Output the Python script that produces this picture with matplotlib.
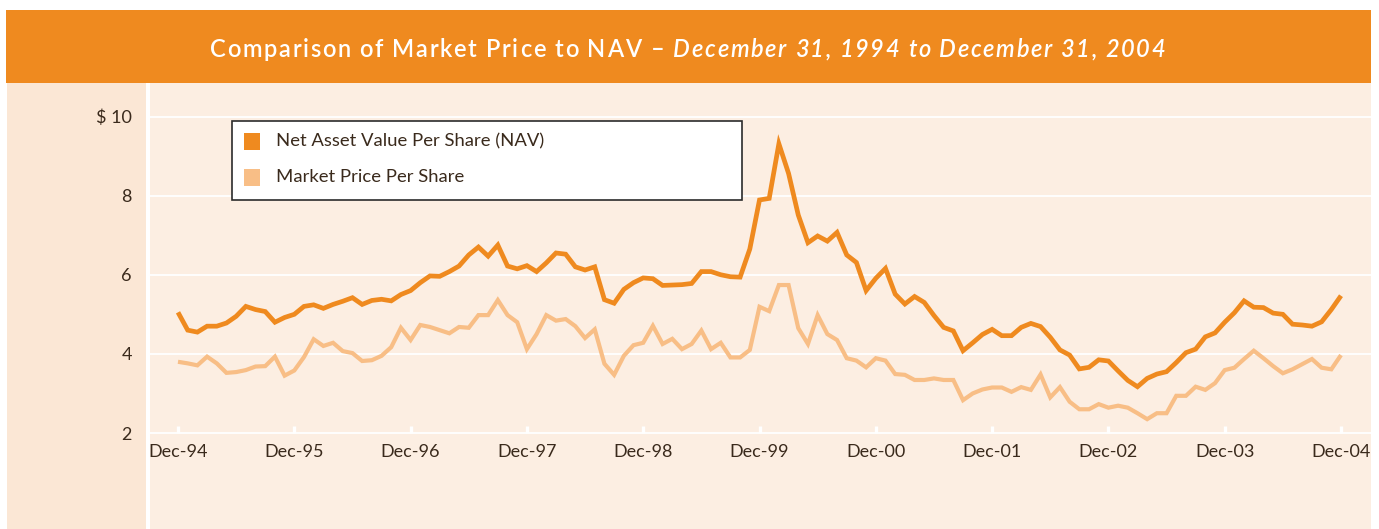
import matplotlib
matplotlib.use("Agg")
import matplotlib.pyplot as plt
from matplotlib.patches import Rectangle
from matplotlib.font_manager import FontProperties
import numpy as np

# ---------------- data ----------------
year_labels = ["Dec-94", "Dec-95", "Dec-96", "Dec-97", "Dec-98", "Dec-99",
               "Dec-00", "Dec-01", "Dec-02", "Dec-03", "Dec-04"]

nav = [5.05, 4.60, 4.55, 4.70, 4.70, 4.78, 4.95, 5.20, 5.12, 5.07, 4.80, 4.92,
       5.00, 5.20, 5.24, 5.15, 5.25, 5.33, 5.42, 5.25, 5.35, 5.38, 5.34, 5.50,
       5.60, 5.80, 5.97, 5.96, 6.08, 6.22, 6.50, 6.70, 6.47, 6.75, 6.22, 6.15,
       6.23, 6.08, 6.30, 6.55, 6.52, 6.20, 6.12, 6.20, 5.37, 5.28, 5.63, 5.80,
       5.92, 5.90, 5.73, 5.74, 5.75, 5.78, 6.08, 6.08, 6.00, 5.95, 5.94, 6.65,
       7.89, 7.93, 9.31, 8.56, 7.51, 6.81, 6.98, 6.85, 7.07, 6.50, 6.31, 5.60,
       5.91, 6.16, 5.51, 5.26, 5.45, 5.30, 4.97, 4.67, 4.58, 4.08, 4.28, 4.49,
       4.62, 4.46, 4.46, 4.67, 4.77, 4.69, 4.42, 4.10, 3.97, 3.62, 3.66, 3.85,
       3.82, 3.57, 3.33, 3.17, 3.38, 3.49, 3.55, 3.78, 4.03, 4.12, 4.43, 4.53,
       4.80, 5.04, 5.34, 5.18, 5.17, 5.03, 5.00, 4.75, 4.73, 4.70, 4.81, 5.12,
       5.47]

market = [3.80, 3.76, 3.71, 3.93, 3.76, 3.52, 3.54, 3.59, 3.68, 3.69, 3.93, 3.45,
          3.58, 3.92, 4.37, 4.20, 4.28, 4.07, 4.02, 3.82, 3.84, 3.95, 4.17, 4.66,
          4.35, 4.73, 4.68, 4.60, 4.52, 4.68, 4.66, 4.98, 4.98, 5.36, 4.98, 4.80,
          4.12, 4.50, 4.98, 4.84, 4.88, 4.70, 4.40, 4.62, 3.75, 3.47, 3.95, 4.22,
          4.28, 4.71, 4.25, 4.38, 4.12, 4.25, 4.59, 4.12, 4.28, 3.91, 3.91, 4.10,
          5.19, 5.08, 5.74, 5.74, 4.65, 4.25, 4.98, 4.50, 4.35, 3.89, 3.83, 3.66,
          3.89, 3.83, 3.49, 3.47, 3.34, 3.34, 3.38, 3.34, 3.34, 2.83, 3.00, 3.10,
          3.15, 3.15, 3.04, 3.16, 3.09, 3.48, 2.90, 3.16, 2.79, 2.60, 2.60, 2.73,
          2.64, 2.69, 2.64, 2.50, 2.35, 2.50, 2.50, 2.94, 2.94, 3.17, 3.09, 3.26,
          3.59, 3.65, 3.87, 4.08, 3.89, 3.69, 3.51, 3.61, 3.74, 3.87, 3.65, 3.61,
          3.97]

y_ticks = [2, 4, 6, 8, 10]
y_tick_labels = ["2", "4", "6", "8", "$ 10"]

series_labels = ["Net Asset Value Per Share (NAV)", "Market Price Per Share"]
title_main = "Comparison of Market Price to NAV \u2013 "
title_italic = "December 31, 1994 to December 31, 2004"

# ---------------- style ----------------
ORANGE = "#EF8A1F"
LIGHT = "#F8BE86"
PLOT_BG = "#FCEEE2"
PANEL_BG = "#FBE7D5"
TEXT = "#3A2A1C"
FAMILY = ['Lato', 'DejaVu Sans']

plt.rcParams['font.family'] = FAMILY

W, H, DPI = 1379, 529, 100
fig = plt.figure(figsize=(W / DPI, H / DPI), dpi=DPI)
fig.patch.set_facecolor("white")


def fx(x):
    return x / W


def fy(y):
    return 1 - y / H


def rect_px(x0, y0, x1, y1, **kw):
    r = Rectangle((fx(x0), fy(y1)), (x1 - x0) / W, (y1 - y0) / H,
                  transform=fig.transFigure, **kw)
    fig.add_artist(r)
    return r


# background panels
rect_px(6, 10, 1371, 83, facecolor=ORANGE, edgecolor="none", zorder=0)
rect_px(7, 83, 146, 529, facecolor=PANEL_BG, edgecolor="none", zorder=0)
rect_px(150, 83, 1371, 529, facecolor=PLOT_BG, edgecolor="none", zorder=0)

# axes: top at y=83 px, bottom at value 2 (y=433 px)
ax_l, ax_r, ax_t, ax_b = 150, 1371, 83, 433
ax = fig.add_axes([fx(ax_l), fy(ax_b), (ax_r - ax_l) / W, (ax_b - ax_t) / H])
ax.set_facecolor(PLOT_BG)
for s in ax.spines.values():
    s.set_visible(False)

px_per_unit = (433 - 116.5) / 8.0
ymax = 10 + (116.5 - 83) / px_per_unit
ax.set_ylim(2, ymax)

x0_px, month_px = 178.0, (1341.0 - 178.0) / 120.0
ax.set_xlim((ax_l - x0_px) / month_px, (ax_r - x0_px) / month_px)

months = np.arange(len(nav))
tick_months = np.arange(0, 12 * len(year_labels), 12)

# gridlines
for yv in y_ticks:
    ax.axhline(yv, color="white", lw=1.3, zorder=1, clip_on=False)

# white tick marks at year ends
ax.vlines(tick_months, 2, 2 + 7.5 / px_per_unit, colors="white", lw=2.4,
          zorder=1, clip_on=False)

ax.plot(months, market, color=LIGHT, lw=3.0, zorder=3,
        solid_joinstyle="miter", solid_capstyle="butt")
ax.plot(months, nav, color=ORANGE, lw=3.4, zorder=4,
        solid_joinstyle="miter", solid_capstyle="butt")

ax.set_yticks(y_ticks)
ax.set_yticklabels(y_tick_labels)
ax.set_xticks(tick_months)
ax.set_xticklabels(year_labels)
ax.tick_params(axis="y", length=0, pad=13, labelsize=13, labelcolor=TEXT)
ax.tick_params(axis="x", length=0, pad=8, labelsize=13, labelcolor=TEXT)

# legend (manual box)
rect_px(232, 121, 742, 200, facecolor="white", edgecolor="#2B2B2B",
        lw=1.2, zorder=5)
rect_px(244, 133, 260, 150, facecolor=ORANGE, edgecolor="none", zorder=6)
rect_px(244, 169, 260, 186, facecolor=LIGHT, edgecolor="none", zorder=6)
fig.text(fx(276), fy(141.5), series_labels[0], ha="left", va="center",
         fontsize=13.3, color=TEXT, zorder=7)
fig.text(fx(276), fy(177.5), series_labels[1], ha="left", va="center",
         fontsize=13.3, color=TEXT, zorder=7)

# title: lightly letter-spaced, upright part followed by italic part
renderer = fig.canvas.get_renderer()
TITLE_FS = 17
TITLE_LEFT, TITLE_RIGHT, TITLE_BASE = 210, 1165, 57
parts = [(title_main, "normal"), (title_italic, "italic")]


def prefix_widths(s, style):
    fp = FontProperties(family=FAMILY, size=TITLE_FS, weight="semibold",
                        style=style)
    out = [0.0]
    for i in range(1, len(s) + 1):
        w, _, _ = renderer.get_text_width_height_descent(s[:i], fp, ismath=False)
        out.append(w)
    return out


pws = [prefix_widths(s, st) for s, st in parts]
n_chars = sum(len(s) for s, _ in parts)
natural = sum(p[-1] for p in pws)
track = max(0.0, ((TITLE_RIGHT - TITLE_LEFT) - natural) / (n_chars - 1))

x_cursor = (TITLE_LEFT + TITLE_RIGHT) / 2 - (natural + track * (n_chars - 1)) / 2
for (s, st), pw in zip(parts, pws):
    for i, ch in enumerate(s):
        if ch != " ":
            fig.text(fx(x_cursor + pw[i] + i * track), fy(TITLE_BASE), ch,
                     ha="left", va="baseline", fontsize=TITLE_FS,
                     color="white", fontweight="semibold", fontstyle=st,
                     zorder=3)
    x_cursor += pw[-1] + len(s) * track

fig.savefig("out.png", dpi=DPI, facecolor=fig.get_facecolor())
